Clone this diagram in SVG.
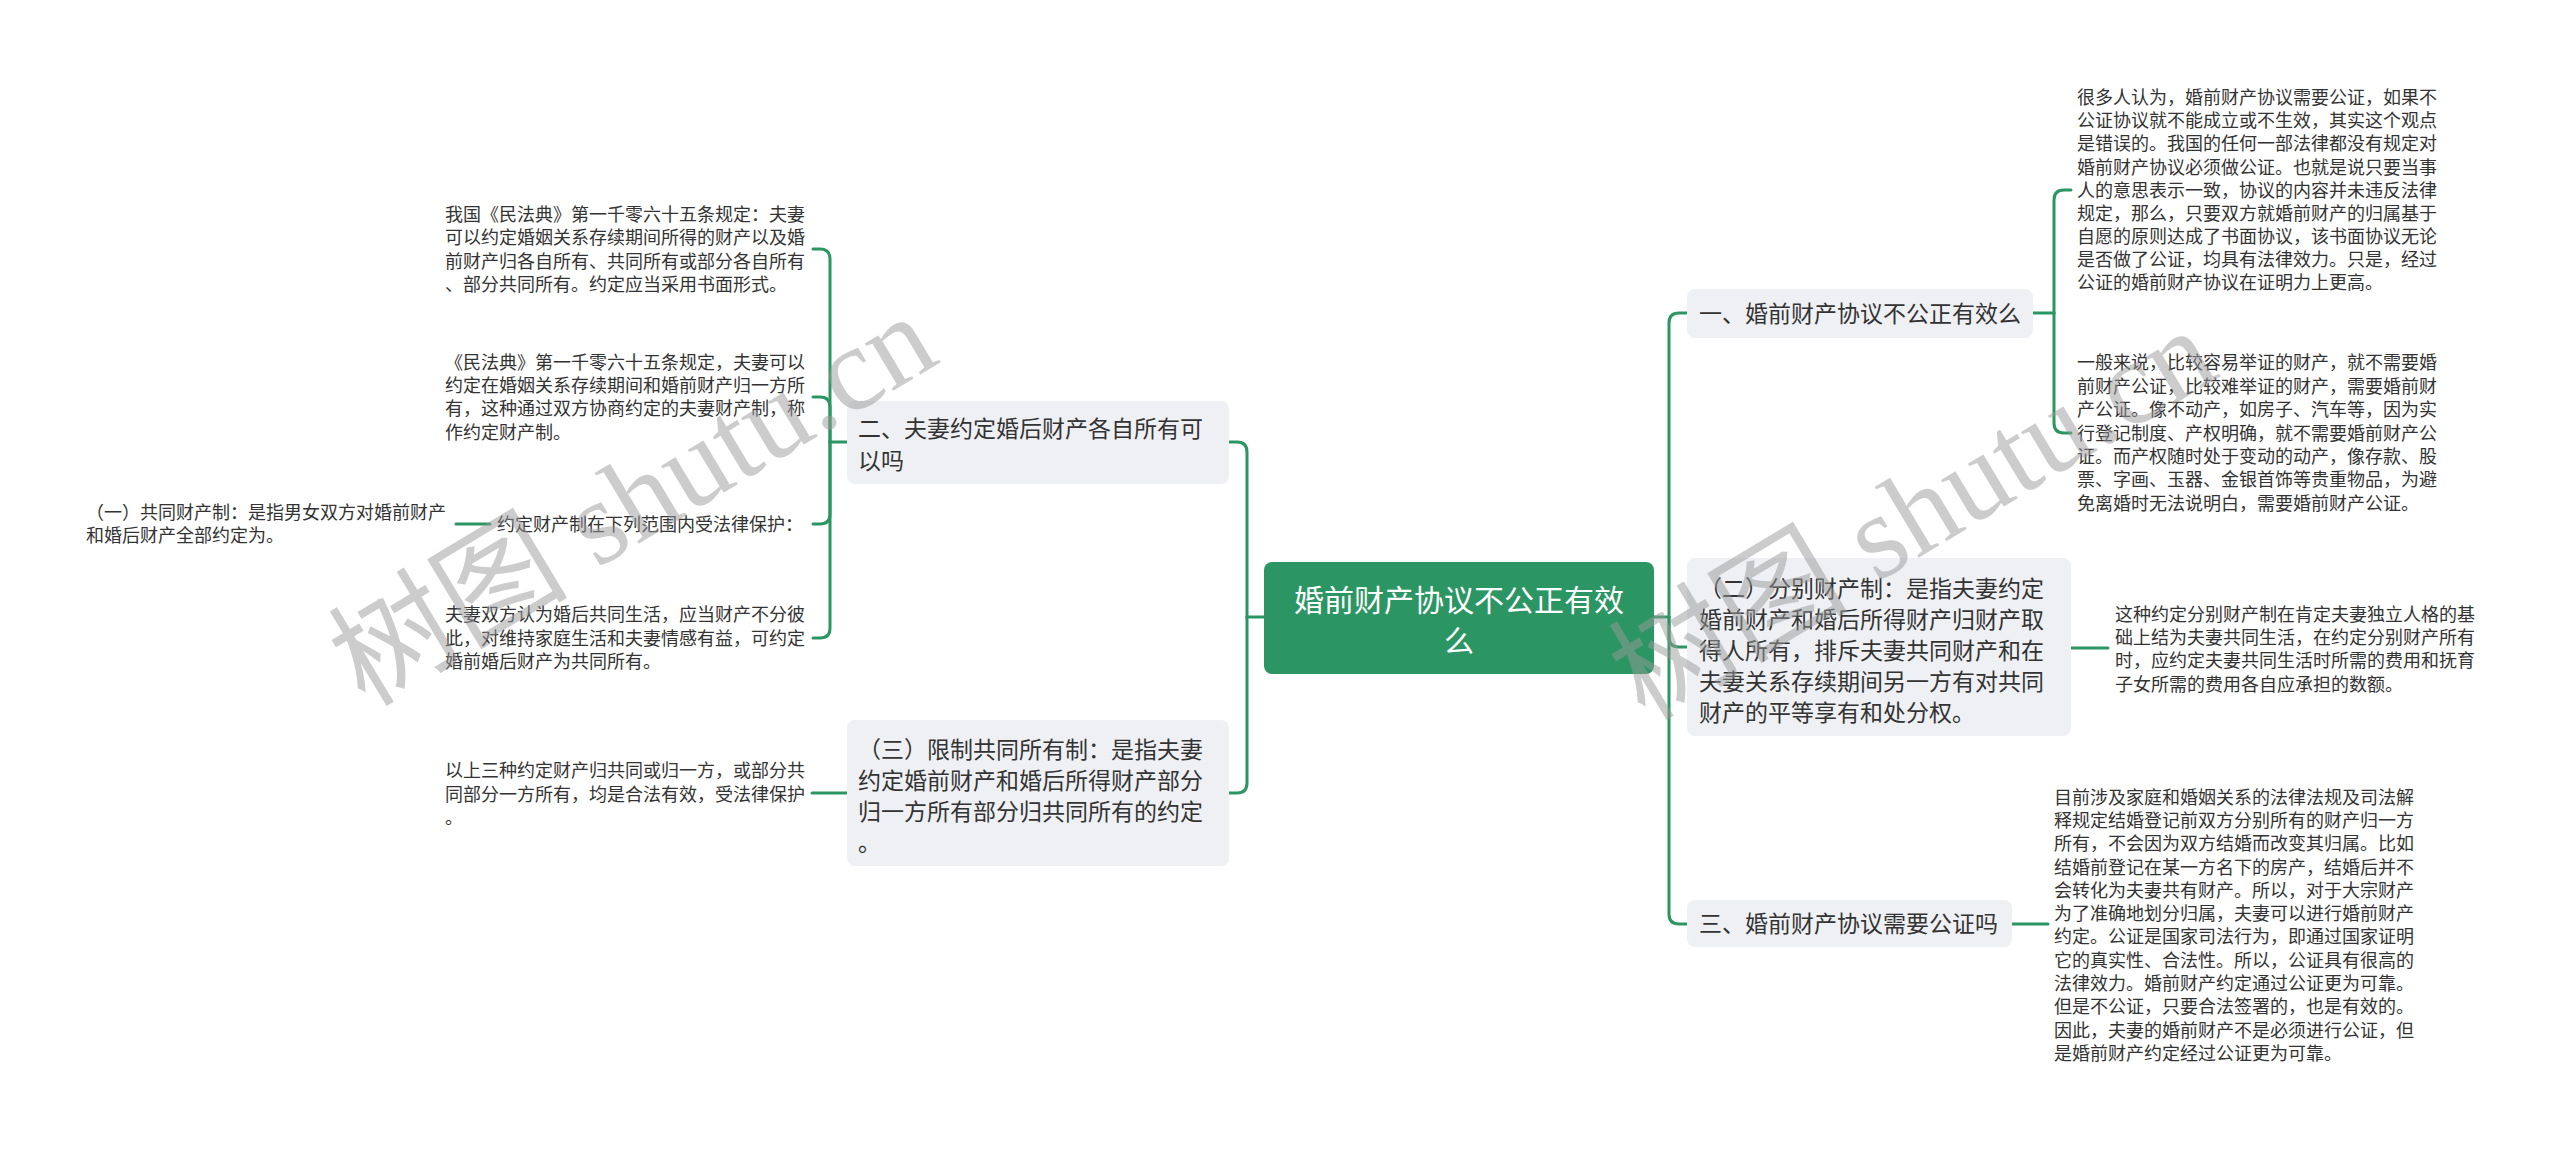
<svg xmlns="http://www.w3.org/2000/svg" width="2560" height="1150" viewBox="0 0 2560 1150">
<style>
.bg{fill:#ffffff}
.box{fill:#eef0f3}
.root{fill:#2b9663}
.t{font-family:"Noto Sans CJK SC","Liberation Sans",sans-serif;fill:#333333}
.nt{font-size:23px}
.lt{font-size:18px}
.rt{font-family:"Noto Sans CJK SC","Liberation Sans",sans-serif;font-size:30px;fill:#ffffff}
.c{fill:none;stroke:#2b9663;stroke-width:3;stroke-linecap:round;stroke-linejoin:round}
.wm{font-family:"Liberation Serif","Noto Sans CJK SC",serif;font-size:120px;fill:#9a9a9a;opacity:0.5}
</style>
<rect class="bg" x="0" y="0" width="2560" height="1150"/>

<g id="connectors">
<path class="c" d="M1264 617 H1247"/>
<path class="c" d="M1247 617 V452 Q1247 442 1237 442 H1229"/>
<path class="c" d="M1247 617 V783 Q1247 793 1237 793 H1229"/>
<path class="c" d="M847 442 H830"/>
<path class="c" d="M830 442 V259 Q830 249 820 249 H813"/>
<path class="c" d="M830 442 V407 Q830 397 820 397 H813"/>
<path class="c" d="M830 442 V514 Q830 524 820 524 H813"/>
<path class="c" d="M830 442 V628 Q830 638 820 638 H813"/>
<path class="c" d="M490 524 H456"/>
<path class="c" d="M847 793 H812"/>
<path class="c" d="M1654 617 H1669"/>
<path class="c" d="M1669 617 V323 Q1669 313 1679 313 H1687"/>
<path class="c" d="M1669 617 V637 Q1669 647 1679 647 H1687"/>
<path class="c" d="M1669 617 V914 Q1669 924 1679 924 H1687"/>
<path class="c" d="M2033 313 H2054"/>
<path class="c" d="M2054 313 V200 Q2054 190 2064 190 H2071"/>
<path class="c" d="M2054 313 V423 Q2054 433 2064 433 H2071"/>
<path class="c" d="M2071 648 H2108"/>
<path class="c" d="M2012 924 H2048"/>
</g>

<g id="root">
<rect class="root" x="1264" y="562" width="390" height="112" rx="8"/>
<text class="rt" text-anchor="middle"><tspan x="1459" y="611">婚前财产协议不公正有效</tspan><tspan x="1459" y="652">么</tspan></text>
</g>

<g id="node-left-2">
<rect class="box" x="847" y="401" width="382" height="83" rx="8"/>
<text class="t nt"><tspan x="858" y="437">二、夫妻约定婚后财产各自所有可</tspan><tspan x="858" y="469">以吗</tspan></text>
</g>

<g id="node-left-3">
<rect class="box" x="847" y="720" width="382" height="146" rx="8"/>
<text class="t nt"><tspan x="858" y="758">（三）限制共同所有制：是指夫妻</tspan><tspan x="858" y="789">约定婚前财产和婚后所得财产部分</tspan><tspan x="858" y="820">归一方所有部分归共同所有的约定</tspan><tspan x="858" y="851">。</tspan></text>
</g>

<g id="leaf-l1">
<text class="t lt"><tspan x="445" y="221">我国《民法典》第一千零六十五条规定：夫妻</tspan><tspan x="445" y="244">可以约定婚姻关系存续期间所得的财产以及婚</tspan><tspan x="445" y="268">前财产归各自所有、共同所有或部分各自所有</tspan><tspan x="445" y="291">、部分共同所有。约定应当采用书面形式。</tspan></text>
</g>

<g id="leaf-l2">
<text class="t lt"><tspan x="445" y="369">《民法典》第一千零六十五条规定，夫妻可以</tspan><tspan x="445" y="392">约定在婚姻关系存续期间和婚前财产归一方所</tspan><tspan x="445" y="415">有，这种通过双方协商约定的夫妻财产制，称</tspan><tspan x="445" y="439">作约定财产制。</tspan></text>
</g>

<g id="leaf-l3">
<text class="t lt"><tspan x="497" y="531">约定财产制在下列范围内受法律保护：</tspan></text>
</g>

<g id="leaf-l3a">
<text class="t lt"><tspan x="86" y="519">（一）共同财产制：是指男女双方对婚前财产</tspan><tspan x="86" y="542">和婚后财产全部约定为。</tspan></text>
</g>

<g id="leaf-l4">
<text class="t lt"><tspan x="445" y="621">夫妻双方认为婚后共同生活，应当财产不分彼</tspan><tspan x="445" y="645">此，对维持家庭生活和夫妻情感有益，可约定</tspan><tspan x="445" y="668">婚前婚后财产为共同所有。</tspan></text>
</g>

<g id="leaf-l5">
<text class="t lt"><tspan x="445" y="777">以上三种约定财产归共同或归一方，或部分共</tspan><tspan x="445" y="801">同部分一方所有，均是合法有效，受法律保护</tspan><tspan x="445" y="824">。</tspan></text>
</g>

<g id="node-right-1">
<rect class="box" x="1687" y="289" width="346" height="49" rx="8"/>
<text class="t nt"><tspan x="1699" y="322">一、婚前财产协议不公正有效么</tspan></text>
</g>

<g id="node-right-2">
<rect class="box" x="1687" y="558" width="384" height="178" rx="8"/>
<text class="t nt"><tspan x="1699" y="597">（二）分别财产制：是指夫妻约定</tspan><tspan x="1699" y="628">婚前财产和婚后所得财产归财产取</tspan><tspan x="1699" y="659">得人所有，排斥夫妻共同财产和在</tspan><tspan x="1699" y="690">夫妻关系存续期间另一方有对共同</tspan><tspan x="1699" y="721">财产的平等享有和处分权。</tspan></text>
</g>

<g id="node-right-3">
<rect class="box" x="1687" y="900" width="325" height="47" rx="8"/>
<text class="t nt"><tspan x="1699" y="932">三、婚前财产协议需要公证吗</tspan></text>
</g>

<g id="leaf-r1">
<text class="t lt"><tspan x="2077" y="104">很多人认为，婚前财产协议需要公证，如果不</tspan><tspan x="2077" y="127">公证协议就不能成立或不生效，其实这个观点</tspan><tspan x="2077" y="150">是错误的。我国的任何一部法律都没有规定对</tspan><tspan x="2077" y="174">婚前财产协议必须做公证。也就是说只要当事</tspan><tspan x="2077" y="197">人的意思表示一致，协议的内容并未违反法律</tspan><tspan x="2077" y="220">规定，那么，只要双方就婚前财产的归属基于</tspan><tspan x="2077" y="243">自愿的原则达成了书面协议，该书面协议无论</tspan><tspan x="2077" y="266">是否做了公证，均具有法律效力。只是，经过</tspan><tspan x="2077" y="289">公证的婚前财产协议在证明力上更高。</tspan></text>
</g>

<g id="leaf-r2">
<text class="t lt"><tspan x="2077" y="369">一般来说，比较容易举证的财产，就不需要婚</tspan><tspan x="2077" y="393">前财产公证，比较难举证的财产，需要婚前财</tspan><tspan x="2077" y="416">产公证。像不动产，如房子、汽车等，因为实</tspan><tspan x="2077" y="440">行登记制度、产权明确，就不需要婚前财产公</tspan><tspan x="2077" y="463">证。而产权随时处于变动的动产，像存款、股</tspan><tspan x="2077" y="486">票、字画、玉器、金银首饰等贵重物品，为避</tspan><tspan x="2077" y="510">免离婚时无法说明白，需要婚前财产公证。</tspan></text>
</g>

<g id="leaf-r3">
<text class="t lt"><tspan x="2115" y="621">这种约定分别财产制在肯定夫妻独立人格的基</tspan><tspan x="2115" y="644">础上结为夫妻共同生活，在约定分别财产所有</tspan><tspan x="2115" y="667">时，应约定夫妻共同生活时所需的费用和抚育</tspan><tspan x="2115" y="691">子女所需的费用各自应承担的数额。</tspan></text>
</g>

<g id="leaf-r4">
<text class="t lt"><tspan x="2054" y="804">目前涉及家庭和婚姻关系的法律法规及司法解</tspan><tspan x="2054" y="827">释规定结婚登记前双方分别所有的财产归一方</tspan><tspan x="2054" y="850">所有，不会因为双方结婚而改变其归属。比如</tspan><tspan x="2054" y="874">结婚前登记在某一方名下的房产，结婚后并不</tspan><tspan x="2054" y="897">会转化为夫妻共有财产。所以，对于大宗财产</tspan><tspan x="2054" y="920">为了准确地划分归属，夫妻可以进行婚前财产</tspan><tspan x="2054" y="943">约定。公证是国家司法行为，即通过国家证明</tspan><tspan x="2054" y="967">它的真实性、合法性。所以，公证具有很高的</tspan><tspan x="2054" y="990">法律效力。婚前财产约定通过公证更为可靠。</tspan><tspan x="2054" y="1013">但是不公证，只要合法签署的，也是有效的。</tspan><tspan x="2054" y="1037">因此，夫妻的婚前财产不是必须进行公证，但</tspan><tspan x="2054" y="1060">是婚前财产约定经过公证更为可靠。</tspan></text>
</g>

<g id="watermarks">
<text class="wm" transform="translate(365 708) rotate(-31)">树图 shutu.cn</text>
<text class="wm" transform="translate(1645 722) rotate(-31)">树图 shutu.cn</text>
</g>
</svg>
